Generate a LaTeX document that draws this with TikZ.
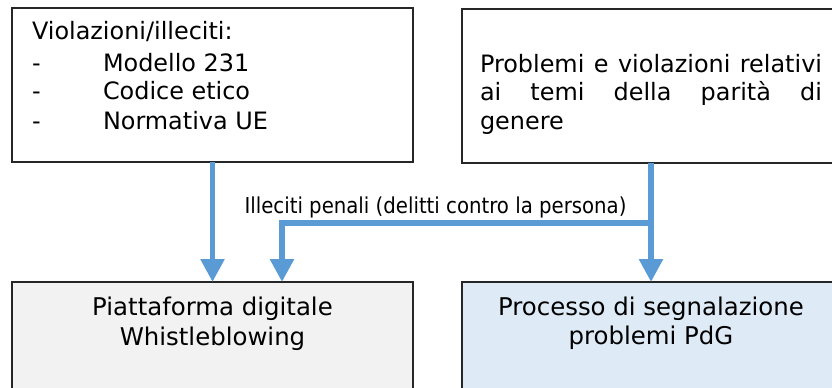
\documentclass[tikz,border=0pt]{standalone}
\usepackage{fontspec}
\setmainfont{DejaVu Sans}
\newfontfamily\condfont{DejaVu Sans Condensed}
\usetikzlibrary{arrows.meta,calc}
\definecolor{arrblue}{HTML}{5B9BD5}
\definecolor{boxgray}{HTML}{F2F2F2}
\definecolor{boxblue}{HTML}{DEEBF7}
\definecolor{edgecol}{HTML}{262626}
\tikzset{
  box/.style={draw=edgecol, line width=1.3bp, anchor=north west, inner sep=0, outer sep=0},
  txt/.style={anchor=base west, inner sep=0, outer sep=0, font=\fontsize{24}{29}\selectfont},
  ctxt/.style={anchor=base, inner sep=0, outer sep=0, font=\fontsize{24.5}{30}\selectfont},
  arr/.style={draw=arrblue, line width=5.5bp, -{Triangle[width=23bp,length=23bp]}},
}
\begin{document}
\begin{tikzpicture}[x=1bp,y=-1bp]
\useasboundingbox (0,0) rectangle (832,387);
% boxes
\node[box, minimum width=401bp, minimum height=154bp] (b1) at (12,8) {};
\node[box, minimum width=378bp, minimum height=154bp] (b2) at (462,9) {};
\node[box, fill=boxgray, minimum width=401bp, minimum height=130bp] (b3) at (12,282) {};
\node[box, fill=boxblue, minimum width=378bp, minimum height=130bp] (b4) at (462,282) {};
% box 1 text
\node[txt] (t1) at (32,39.5) {Violazioni/illeciti:};
\node[txt] (d1) at (32,71) {-};
\node[txt] (d2) at (32,99.5) {-};
\node[txt] (d3) at (32,129.5) {-};
\node[txt] (i1) at (103,71) {Modello 231};
\node[txt] (i2) at (103,99.5) {Codice etico};
\node[txt] (i3) at (103,129.5) {Normativa UE};
% box 2 text
\node[txt] (p1) at (480,72) {\makebox[342bp][s]{Problemi e violazioni relativi}};
\node[txt] (p2) at (480,100.5) {\makebox[342bp][s]{ai temi della parità di}};
\node[txt] (p3) at (480,129) {genere};
% bottom texts
\node[ctxt] (w1) at (212.5,315) {Piattaforma digitale};
\node[ctxt] (w2) at (212.5,345) {Whistleblowing};
\node[ctxt] (s1) at (651,315) {Processo di segnalazione};
\node[ctxt] (s2) at (651,344) {problemi PdG};
% label
\node[anchor=base, inner sep=0, font=\condfont\fontsize{22}{26}\selectfont] (lab) at (435.5,213) {Illeciti penali (delitti contro la persona)};
% connectors
\coordinate (j) at (b2.south |- 0,223);
\coordinate (k) at ([xshift=69.5bp]b3.north);
\draw[arr] (b1.south) -- (b3.north);
\draw[arr] (b2.south) -- (b4.north);
\draw[arr] (j) -| (k);
\end{tikzpicture}
\end{document}
